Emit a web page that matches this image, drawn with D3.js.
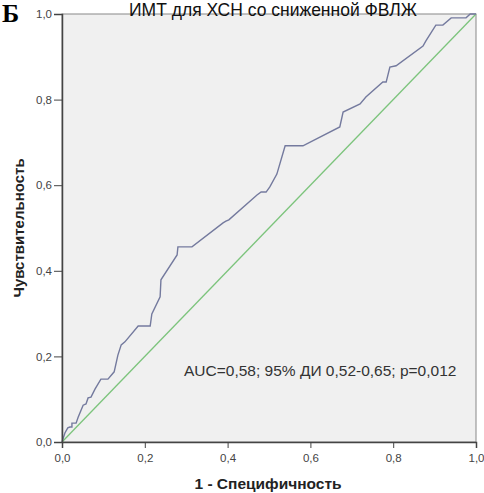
<html>
<head>
<meta charset="utf-8">
<script src="https://d3js.org/d3.v7.min.js"></script>
<style>
body { margin: 0; background: #fff; }
* { font-family: "Liberation Sans", Arial, sans-serif; }
.tick text { fill: #444; font-size: 11.5px; }
.tick line { stroke: #444; }
</style>
</head>
<body>
<svg width="484" height="493"></svg>
<script>
// ROC curve points (1 - specificity, sensitivity)
var fpr = [0, 0.007, 0.014, 0.019, 0.024, 0.024, 0.034, 0.039, 0.051, 0.058, 0.063, 0.070, 0.080, 0.094,
  0.111, 0.126, 0.135, 0.143, 0.152, 0.184, 0.213, 0.217, 0.237, 0.239, 0.278, 0.280, 0.314, 0.389,
  0.396, 0.403, 0.471, 0.481, 0.493, 0.502, 0.519, 0.539, 0.582, 0.671, 0.679, 0.720, 0.734, 0.775,
  0.783, 0.792, 0.807, 0.872, 0.879, 0.903, 0.920, 0.940, 0.976, 0.986, 1];
var tpr = [0, 0.021, 0.033, 0.035, 0.035, 0.044, 0.044, 0.058, 0.086, 0.089, 0.103, 0.105, 0.124, 0.147,
  0.147, 0.164, 0.203, 0.227, 0.234, 0.271, 0.271, 0.299, 0.339, 0.379, 0.437, 0.456, 0.456, 0.512,
  0.516, 0.519, 0.577, 0.584, 0.584, 0.596, 0.626, 0.692, 0.692, 0.736, 0.771, 0.790, 0.806, 0.841,
  0.841, 0.876, 0.879, 0.925, 0.937, 0.974, 0.974, 0.991, 0.991, 1, 1];
var ticks = [0, 0.2, 0.4, 0.6, 0.8, 1.0];
var title = "ИМТ для ХСН со сниженной ФВЛЖ";
var xLabel = "1 - Специфичность";
var yLabel = "Чувствительность";
var note = "AUC=0,58; 95% ДИ 0,52-0,65; p=0,012";

var svg = d3.select("svg");
var x = d3.scaleLinear().domain([0, 1]).range([62, 476]);
var y = d3.scaleLinear().domain([0, 1]).range([442, 14]);
var fmt = function (d) { return d3.format(".1f")(d).replace(".", ","); };

// plot background + frame
svg.append("rect")
    .attr("x", x(0)).attr("y", y(1))
    .attr("width", x(1) - x(0)).attr("height", y(0) - y(1))
    .style("fill", "#f0f0f0").style("stroke", "#888").style("stroke-width", 1);

// reference diagonal
svg.append("line")
    .attr("x1", x(0)).attr("y1", y(0)).attr("x2", x(1)).attr("y2", y(1))
    .style("stroke", "#7cc47c").style("stroke-width", 1.3);

var pts = fpr.map(function (d, i) { return [d, tpr[i]]; });
var line = d3.line().x(function (d) { return x(d[0]); }).y(function (d) { return y(d[1]); });
svg.append("path").datum(pts)
    .attr("d", line)
    .style("fill", "none").style("stroke", "#747a9e").style("stroke-width", 1.4);

svg.append("g").attr("transform", "translate(0," + y(0) + ")")
    .call(d3.axisBottom(x).tickValues(ticks).tickFormat(fmt).tickSize(6).tickPadding(6))
    .call(function (g) { g.select(".domain").style("stroke", "#444").style("stroke-width", 1.5); });

svg.append("g").attr("transform", "translate(" + x(0) + ",0)")
    .call(d3.axisLeft(y).tickValues(ticks).tickFormat(fmt).tickSize(8).tickPadding(2))
    .call(function (g) { g.select(".domain").style("stroke", "#444").style("stroke-width", 1.5); });

// title sits right on the frame, as in the original
svg.append("text").attr("x", 273).attr("y", 16)
    .attr("text-anchor", "middle")
    .style("font-size", "17.5px").style("fill", "#111")
    .text(title);

svg.append("text").attr("x", 2).attr("y", 22)
    .style("font-family", "'Liberation Serif', serif").style("font-weight", "bold")
    .style("font-size", "26px").style("fill", "#000")
    .text("Б");

svg.append("text").attr("x", 268).attr("y", 489)
    .attr("text-anchor", "middle")
    .style("font-size", "15.5px").style("font-weight", "bold").style("fill", "#222")
    .text(xLabel);

svg.append("text")
    .attr("transform", "translate(24," + y(0.5) + ") rotate(-90)")
    .attr("text-anchor", "middle")
    .style("font-size", "15px").style("font-weight", "bold").style("fill", "#222")
    .text(yLabel);

svg.append("text").attr("x", 184).attr("y", 376)
    .style("font-size", "15.5px").style("fill", "#333")
    .text(note);
</script>
</body>
</html>
